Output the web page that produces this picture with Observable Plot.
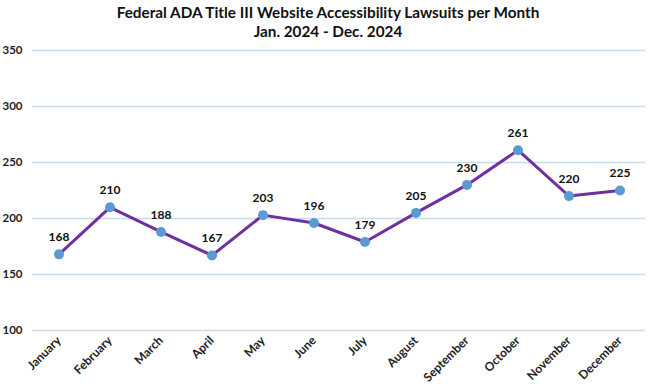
<!DOCTYPE html>
<html>
<head>
<meta charset="utf-8">
<script src="https://cdn.jsdelivr.net/npm/d3@7"></script>
<script src="https://cdn.jsdelivr.net/npm/@observablehq/plot@0.6"></script>
<style>
  body { margin: 0; background: #fff; }
  #chart svg { display: block; }
</style>
</head>
<body>
<div id="chart"></div>
<script>
const months = ["January","February","March","April","May","June","July","August","September","October","November","December"];
const lawsuits = [168, 210, 188, 167, 203, 196, 179, 205, 230, 261, 220, 225];
const yTicks = [100, 150, 200, 250, 300, 350];
const titleLines = ["Federal ADA Title III Website Accessibility Lawsuits per Month", "Jan. 2024 - Dec. 2024"];

const data = months.map((m, i) => ({month: m, value: lawsuits[i]}));
const font = "Lato, 'Open Sans', sans-serif";

const chart = Plot.plot({
  width: 656,
  height: 388,
  marginLeft: 32,
  marginRight: 11,
  marginTop: 50,
  marginBottom: 58,
  style: {fontFamily: font, background: "#fff", overflow: "visible"},
  x: {type: "band", domain: months, padding: 0, label: null},
  y: {domain: [100, 350], label: null},
  marks: [
    Plot.ruleY(yTicks.filter(d => d > 100), {stroke: "#C5DCF0", strokeWidth: 1.3}),
    Plot.ruleY([100], {stroke: "#D9D9D9", strokeWidth: 1.3}),
    Plot.axisY({ticks: yTicks, tickSize: 0, tickPadding: 10, fontWeight: "bold", fontSize: 11.5, fill: "#222"}),
    Plot.axisX({tickSize: 0, tickRotate: -45, tickPadding: 8, fontWeight: "bold", fontSize: 12, fill: "#222"}),
    Plot.line(data, {x: "month", y: "value", stroke: "#7030A0", strokeWidth: 3}),
    Plot.dot(data, {x: "month", y: "value", r: 5, fill: "#5B9BD5", stroke: null}),
    Plot.text(data, {x: "month", y: "value", text: d => String(d.value), dy: -17, fontWeight: "bold", fontSize: 12, fill: "#111"}),
    Plot.text([titleLines[0]], {frameAnchor: "top", lineAnchor: "middle", dx: -11, dy: -37, fontWeight: "bold", fontSize: 15.3, fill: "#111", text: d => d}),
    Plot.text([titleLines[1]], {frameAnchor: "top", lineAnchor: "middle", dx: -11, dy: -18, fontWeight: "bold", fontSize: 15.3, fill: "#111", text: d => d})
  ]
});
document.getElementById("chart").append(chart);
</script>
</body>
</html>
